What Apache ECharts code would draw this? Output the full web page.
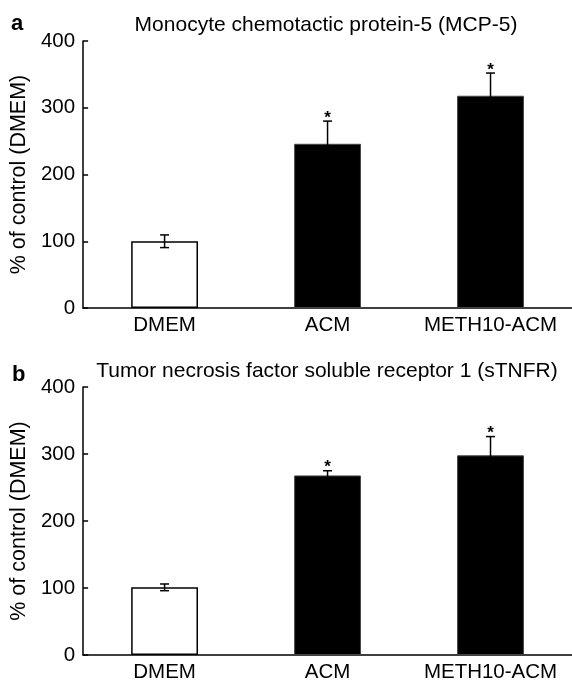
<!DOCTYPE html>
<html>
<head>
<meta charset="utf-8">
<script src="https://cdn.jsdelivr.net/npm/echarts@6/dist/echarts.min.js"></script>
<style>
  html, body { margin: 0; padding: 0; background: #fff; }
  #chart { width: 572px; height: 683px; }
</style>
</head>
<body>
<div id="chart"></div>
<script>
// data (% of DMEM control, mean and SEM)
const categories = ['DMEM', 'ACM', 'METH10-ACM']
const mcp5Mean = [100, 246, 318]
const mcp5Sem = [9.5, 34, 34]
const mcp5Sig = ['', '*', '*']
const stnfrMean = [101, 268, 298]
const stnfrSem = [5, 7, 28]
const stnfrSig = ['', '*', '*']
const yMin = 0
const yMax = 400
const yStep = 100

const FONT = 'Liberation Sans, Arial, Helvetica, sans-serif'
const chart = echarts.init(document.getElementById('chart'), null, { renderer: 'canvas' })

function barData (means) {
  return means.map((v, i) => ({
    value: v,
    itemStyle: i === 0
      ? { color: '#fff', borderColor: '#000', borderWidth: 1.5 }
      : { color: '#000', borderColor: '#444', borderWidth: 1 },
  }))
}

function errData (means, sems, sig) {
  return means.map((v, i) => [i, v, sems[i], sig[i]])
}

function renderErr (params, api) {
  const x = api.value(0)
  const m = api.value(1)
  const s = api.value(2)
  const star = api.value(3)
  const hi = api.coord([x, m + s])
  const lo = api.coord([x, m - s])
  const cap = 4.5
  const st = { stroke: '#000', lineWidth: 1.5 }
  const kids = [
    { type: 'line', shape: { x1: hi[0], y1: hi[1], x2: lo[0], y2: lo[1] }, style: st },
    { type: 'line', shape: { x1: hi[0] - cap, y1: hi[1], x2: hi[0] + cap, y2: hi[1] }, style: st },
    { type: 'line', shape: { x1: lo[0] - cap, y1: lo[1], x2: lo[0] + cap, y2: lo[1] }, style: st },
  ]
  if (star) {
    kids.push({
      type: 'text',
      x: hi[0],
      y: hi[1] - 3,
      style: { text: star, font: 'bold 17px ' + FONT, fill: '#000', align: 'center', verticalAlign: 'middle' },
    })
  }
  return { type: 'group', children: kids }
}

function yAxisOpt (idx) {
  return {
    gridIndex: idx,
    type: 'value',
    min: yMin,
    max: yMax,
    interval: yStep,
    name: '% of control (DMEM)',
    nameLocation: 'middle',
    nameGap: 38,
    nameTextStyle: { fontSize: 21.5, color: '#000', fontFamily: FONT },
    axisLine: { show: true, lineStyle: { color: '#000', width: 1.5 } },
    axisTick: { show: true, inside: true, length: 5, lineStyle: { color: '#000', width: 1.5 } },
    axisLabel: { fontSize: 20.5, color: '#000', fontFamily: FONT, margin: 8 },
    splitLine: { show: false },
  }
}

function xAxisOpt (idx) {
  return {
    gridIndex: idx,
    type: 'category',
    data: categories,
    axisLine: { show: true, lineStyle: { color: '#000', width: 1.5 } },
    axisTick: { show: false },
    axisLabel: { interval: 0, fontSize: 20.5, color: '#000', fontFamily: FONT, margin: 7 },
  }
}

chart.setOption({
  animation: false,
  backgroundColor: '#fff',
  grid: [
    { left: 82, right: 0, top: 41, height: 267 },
    { left: 82, right: 0, top: 387, height: 268 },
  ],
  xAxis: [xAxisOpt(0), xAxisOpt(1)],
  yAxis: [yAxisOpt(0), yAxisOpt(1)],
  graphic: [
    { type: 'text', x: 11, y: 24, style: { text: 'a', font: 'bold 22px ' + FONT, fill: '#000', verticalAlign: 'middle' } },
    { type: 'text', x: 326, y: 25, style: { text: 'Monocyte chemotactic protein-5 (MCP-5)', font: '21px ' + FONT, fill: '#000', align: 'center', verticalAlign: 'middle' } },
    { type: 'text', x: 12, y: 375, style: { text: 'b', font: 'bold 22px ' + FONT, fill: '#000', verticalAlign: 'middle' } },
    { type: 'text', x: 327, y: 371, style: { text: 'Tumor necrosis factor soluble receptor 1 (sTNFR)', font: '21px ' + FONT, fill: '#000', align: 'center', verticalAlign: 'middle' } },
  ],
  series: [
    { type: 'bar', xAxisIndex: 0, yAxisIndex: 0, barWidth: '41%', data: barData(mcp5Mean) },
    { type: 'custom', xAxisIndex: 0, yAxisIndex: 0, renderItem: renderErr, data: errData(mcp5Mean, mcp5Sem, mcp5Sig), z: 5 },
    { type: 'bar', xAxisIndex: 1, yAxisIndex: 1, barWidth: '41%', data: barData(stnfrMean) },
    { type: 'custom', xAxisIndex: 1, yAxisIndex: 1, renderItem: renderErr, data: errData(stnfrMean, stnfrSem, stnfrSig), z: 5 },
  ],
})
</script>
</body>
</html>
